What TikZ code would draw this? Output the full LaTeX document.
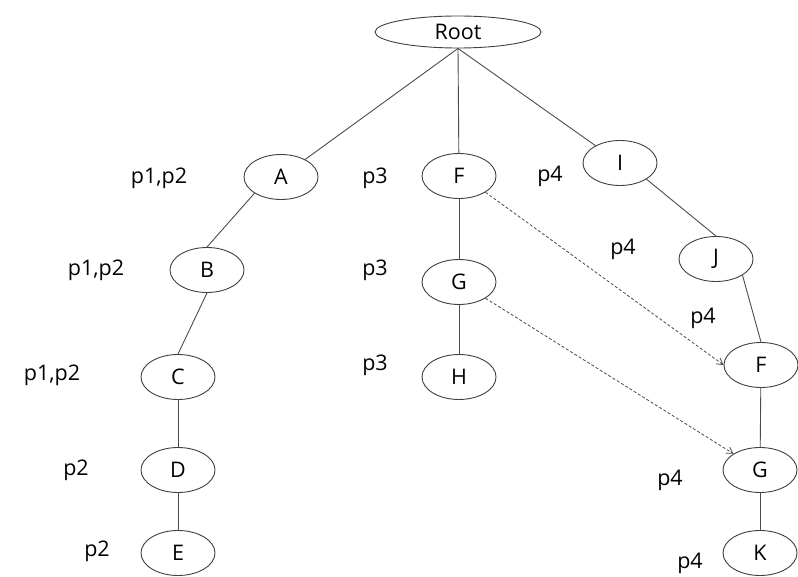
\documentclass[tikz,border=0pt]{standalone}
\usepackage{fontspec}
\setmainfont{Open Sans}
\usetikzlibrary{arrows.meta, positioning, shapes.geometric}

\begin{document}
\begin{tikzpicture}[x=1pt,y=-1pt,font=\fontsize{21.5}{25}\selectfont,line width=0.9pt]
            % Styles for the tree
            \tikzstyle{vertex} = [ellipse, draw=black!75, minimum width=74pt, minimum height=45pt, inner sep=0pt]
            \tikzstyle{tag} = [inner sep=0pt]
            \tikzstyle{edge} = [draw=black!70]
            \tikzstyle{link} = [draw=black!70, dashed, dash pattern=on 3pt off 2pt, line width=0.8pt, -{Straight Barb[length=6pt,width=7pt]}]

            \useasboundingbox (0,0) rectangle (798,577);

            % Nodes position
            \node [vertex, minimum width=166pt, minimum height=32pt] (root) at (458,32) {Root};

            \node [vertex] (A) at (281,177) {A};
            \node [vertex] (B) at (207,270) {B};
            \node [vertex] (C) at (178,377) {C};
            \node [vertex] (D) at (178,470) {D};
            \node [vertex] (E) at (178,553) {E};

            \node [vertex] (F) at (459,176) {F};
            \node [vertex] (G) at (459,282) {G};
            \node [vertex] (H) at (459,377) {H};

            \node [vertex] (I) at (620,163) {I};
            \node [vertex] (J) at (716,259) {J};
            \node [vertex] (F2) at (761,365) {F};
            \node [vertex] (G2) at (760,470) {G};
            \node [vertex] (K) at (760,553) {K};

            % Path labels
            \node [tag] (tA) at (159,178) {p1,p2};
            \node [tag] (tB) at (96,270) {p1,p2};
            \node [tag] (tC) at (52,375) {p1,p2};
            \node [tag] (tD) at (76,470) {p2};
            \node [tag] (tE) at (97,551) {p2};
            \node [tag] (tF) at (375,178) {p3};
            \node [tag] (tG) at (375,270) {p3};
            \node [tag] (tH) at (375,365) {p3};
            \node [tag] (tI) at (550,176) {p4};
            \node [tag] (tJ) at (623,249) {p4};
            \node [tag] (tF2) at (703,318) {p4};
            \node [tag] (tG2) at (670,480) {p4};
            \node [tag] (tK) at (690,563) {p4};

            % Edges
            \draw[edge] (root.south) -- (A);
            \draw[edge] (root.south) -- (F);
            \draw[edge] (root.south) -- (I);
            \draw[edge] (A.south west) -- (B.north);
            \draw[edge] (B.south) -- (C.north);
            \draw[edge] (C) -- (D);
            \draw[edge] (D) -- (E);
            \draw[edge] (F) -- (G);
            \draw[edge] (G) -- (H);
            \draw[edge] (I.south east) -- (J.north);
            \draw[edge] (J.south east) -- (F2.north);
            \draw[edge] (F2) -- (G2);
            \draw[edge] (G2) -- (K);

            % Shared nodes
            \draw[link] (F.south east) -- (F2.west);
            \draw[link] (G.south east) -- (G2.north west);
        \end{tikzpicture}
\end{document}
